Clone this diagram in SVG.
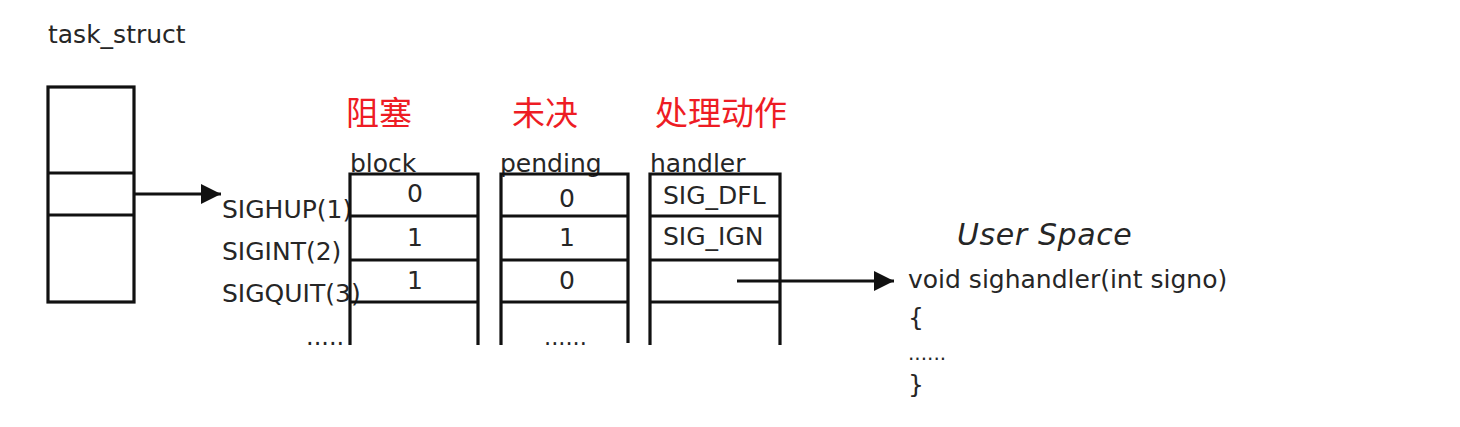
<svg xmlns="http://www.w3.org/2000/svg" width="1460" height="427" viewBox="0 0 1460 427">
<defs>
<style>
.t{font-family:"DejaVu Sans","Noto Sans",sans-serif;font-size:25px;fill:#262626}
.c{text-anchor:middle}
.zh{font-family:"Noto Sans CJK SC","Noto Sans",sans-serif;font-size:33px;fill:#ee1c24}
.ln{stroke:#111;stroke-width:3.2;fill:none}
.us{font-family:"DejaVu Sans","Noto Sans",sans-serif;font-size:30px;font-style:italic;letter-spacing:0.6px;fill:#262626}
</style>
<marker id="ah" viewBox="0 0 10 10" refX="10" refY="5" markerWidth="20" markerHeight="20" markerUnits="userSpaceOnUse" orient="auto">
<path d="M0,0 L10,5 L0,10 z" fill="#111"/>
</marker>
</defs>
<rect width="1460" height="427" fill="#fff"/>

<g id="task_struct">
<text class="t" x="48" y="43">task_struct</text>
<rect class="ln" x="48" y="87" width="86" height="215"/>
<line class="ln" x1="48" y1="173" x2="134" y2="173"/>
<line class="ln" x1="48" y1="215" x2="134" y2="215"/>
</g>

<g id="signals">
<text class="t" x="222" y="218">SIGHUP(1)</text>
<text class="t" x="222" y="260">SIGINT(2)</text>
<text class="t" x="222" y="302">SIGQUIT(3)</text>
<text class="t" x="306" y="345" style="font-size:24px">.....</text>
</g>

<g id="block">
<text class="zh" x="346" y="125">阻塞</text>
<text class="t" x="350" y="172">block</text>
<path class="ln" d="M350,345 V174 H478 V345 M350,216 H478 M350,260 H478 M350,302 H478"/>
<text class="t c" x="415" y="202">0</text>
<text class="t c" x="415" y="246">1</text>
<text class="t c" x="415" y="289">1</text>
</g>

<g id="pending">
<text class="zh" x="512" y="125">未决</text>
<text class="t" x="500" y="172">pending</text>
<path class="ln" d="M501,345 V174 H628 V343 M501,216 H628 M501,260 H628 M501,302 H628"/>
<text class="t c" x="567" y="207">0</text>
<text class="t c" x="567" y="246">1</text>
<text class="t c" x="567" y="289">0</text>
<text class="t" x="544" y="345" style="font-size:22.5px">......</text>
</g>

<g id="handler">
<text class="zh" x="655" y="125">处理动作</text>
<text class="t" x="650" y="172">handler</text>
<path class="ln" d="M650,345 V174 H780 V345 M650,216 H780 M650,260 H780 M650,302 H780"/>
<text class="t" x="663" y="204">SIG_DFL</text>
<text class="t" x="663" y="245">SIG_IGN</text>
</g>

<g id="userspace">
<text class="us" x="957" y="245">User Space</text>
<text class="t" x="908" y="288">void sighandler(int signo)</text>
<text class="t" x="908" y="326">{</text>
<text class="t" x="908" y="360" style="font-size:20px">......</text>
<text class="t" x="908" y="393">}</text>
</g>

<g id="connectors">
<line class="ln" x1="134" y1="194" x2="221" y2="194" marker-end="url(#ah)"/>
<line class="ln" x1="737" y1="281" x2="894" y2="281" marker-end="url(#ah)"/>
</g>
</svg>
